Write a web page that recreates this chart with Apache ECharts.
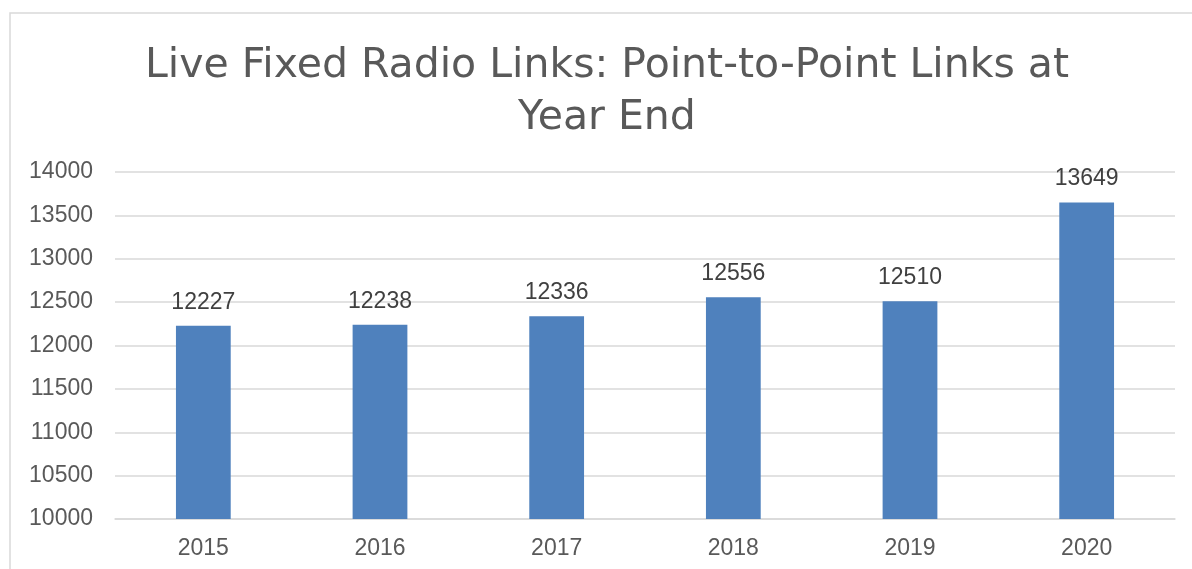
<!DOCTYPE html>
<html>
<head>
<meta charset="utf-8">
<script src="https://cdn.jsdelivr.net/npm/echarts@6/dist/echarts.min.js"></script>
<style>
html,body{margin:0;padding:0;background:#fff;}
#chart{width:1192px;height:569px;}
</style>
</head>
<body>
<div id="chart"></div>
<script>
const categories = ['2015', '2016', '2017', '2018', '2019', '2020'];
const values = [12227, 12238, 12336, 12556, 12510, 13649];
const titleText = 'Live Fixed Radio Links: Point-to-Point Links at\nYear End';

const chart = echarts.init(document.getElementById('chart'));
chart.setOption({
  backgroundColor: '#ffffff',
  animation: false,
  graphic: [{
    type: 'rect',
    shape: { x: 10, y: 13, width: 1300, height: 700 },
    style: { fill: 'none', stroke: '#d9d9d9', lineWidth: 1.5 },
    silent: true
  }, {
    type: 'text',
    x: 607,
    y: 40,
    silent: true,
    style: {
      text: titleText,
      textAlign: 'center',
      textVerticalAlign: 'top',
      fontFamily: 'DejaVu Sans',
      fontSize: 41,
      fontWeight: 'normal',
      fill: '#595959',
      lineHeight: 52
    }
  }],
  grid: { left: 115, right: 17, top: 172, bottom: 50 },
  xAxis: {
    type: 'category',
    data: categories,
    axisLine: { show: true, lineStyle: { color: '#d9d9d9', width: 1.5 } },
    axisTick: { show: false },
    axisLabel: { color: '#595959', fontSize: 23, fontFamily: 'Liberation Sans', margin: 18 }
  },
  yAxis: {
    type: 'value',
    min: 10000,
    max: 14000,
    interval: 500,
    axisLine: { show: false },
    axisTick: { show: false },
    splitLine: { lineStyle: { color: '#d9d9d9', width: 1.5 } },
    axisLabel: {
      color: '#595959', fontSize: 23, fontFamily: 'Liberation Sans', margin: 22,
      formatter: function (v) { return String(v); }
    }
  },
  series: [{
    type: 'bar',
    data: values,
    barWidth: '31%',
    itemStyle: { color: '#4f81bd' },
    label: {
      show: true,
      position: 'top',
      distance: 12,
      color: '#404040',
      fontSize: 23,
      fontFamily: 'Liberation Sans'
    }
  }]
});
</script>
</body>
</html>
